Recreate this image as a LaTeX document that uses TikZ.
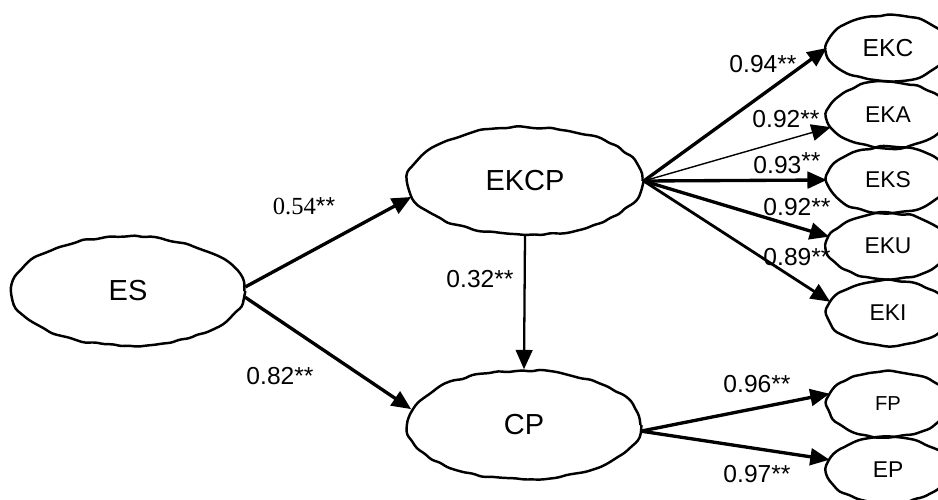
\documentclass[tikz,border=0pt]{standalone}
\usepackage{fontspec}
\setmainfont{Liberation Sans}
\newfontfamily\serifnum{Liberation Serif}
\usetikzlibrary{shapes.geometric,arrows.meta,decorations.pathmorphing}

\begin{document}
\begin{tikzpicture}[x=0.02cm,y=-0.02cm,
    wobbly/.style={draw,ellipse,line width=1.4pt,inner sep=0pt,
      decorate,decoration={random steps,segment length=5pt,amplitude=0.8pt},rounded corners=2pt},
    latent/.style={wobbly,minimum width=4.66cm,minimum height=2.18cm,font=\fontsize{16.5}{18}\selectfont},
    item/.style={wobbly,minimum width=2.4cm,minimum height=1.32cm,font=\fontsize{13}{15}\selectfont},
    coef/.style={inner sep=0pt,font=\fontsize{14}{16}\selectfont},
    link/.style={line width=1.9pt,-{Triangle[length=11pt,width=9.5pt]}}]
  \pgfmathsetseed{11}
  \useasboundingbox (0,0) rectangle (938,500);
  % latent variables
  \node[latent] (ES) at (128,291) {ES};
  \node[latent,minimum width=4.7cm,minimum height=2.16cm] (EKCP) at (525,181) {EKCP};
  \node[latent] (CP) at (524,425) {CP};
  % indicators
  \node[item,font=\fontsize{14}{16}\selectfont] (EKC) at (888,48) {EKC};
  \node[item] (EKA) at (888,115) {EKA};
  \node[item] (EKS) at (888,180) {EKS};
  \node[item] (EKU) at (888,246) {EKU};
  \node[item] (EKI) at (888,313) {EKI};
  \node[item,font=\fontsize{11.5}{13}\selectfont] (FP) at (888,404) {FP};
  \node[item] (EP) at (888,470) {EP};
  % paths
  \draw[link] (ES.2) -- (EKCP.188);
  \draw[link] (ES.-3) -- (CP.172);
  \draw[link,line width=1.3pt] (EKCP.south) -- (CP.north);
  \draw[link] (EKCP.east) -- (EKC.west);
  \draw[link,line width=0.8pt] (EKCP.east) -- (EKA.192);
  \draw[link] (EKCP.east) -- (EKS.west);
  \draw[link] (EKCP.east) -- (EKU.171);
  \draw[link,line width=1.6pt] (EKCP.east) -- (EKI.169);
  \draw[link] (CP.-3) -- (FP.170);
  \draw[link] (CP.-3) -- (EP.170);
  % coefficients
  \node[coef] (c54) at (304,206) {{\serifnum 0.54}**};
  \node[coef] (c32) at (480,279) {0.32**};
  \node[coef] (c82) at (280,376) {0.82**};
  \node[coef] (c94) at (763,64) {0.94**};
  \node[coef] (c92a) at (786,119) {0.92**};
  \node[coef] (c93) at (787,163) {0.93\raisebox{2pt}{**}};
  \node[coef] (c92b) at (797,207) {0.92**};
  \node[coef] (c89) at (797,257) {0.89**};
  \node[coef] (c96) at (757,384) {0.96**};
  \node[coef] (c97) at (757,474) {0.97**};
\end{tikzpicture}
\end{document}
